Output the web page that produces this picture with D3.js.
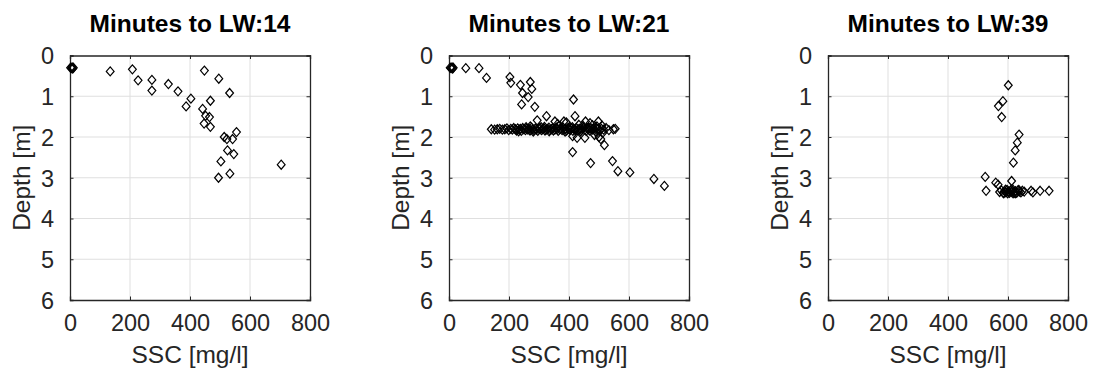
<!DOCTYPE html>
<html>
<head>
<meta charset="utf-8">
<script src="https://cdn.jsdelivr.net/npm/d3@7"></script>
<style>
  html, body { margin: 0; padding: 0; background: #fff; }
  svg { display: block; }
  text { font-family: "Liberation Sans", Arial, Helvetica, sans-serif; }
</style>
</head>
<body>
<svg id="chart" width="1093" height="379"></svg>
<script>
// Suspended sediment concentration profiles at three times before low water
const panelTitles = ["Minutes to LW:14", "Minutes to LW:21", "Minutes to LW:39"];
const xTicks = [0, 200, 400, 600, 800];
const yTicks = [0, 1, 2, 3, 4, 5, 6];
const xLabel = "SSC [mg/l]";
const yLabel = "Depth [m]";

// Panel 1: SSC [mg/l] and depth [m]
const ssc14 = [2, 5, 7, 9, 11, 134, 208, 227, 273, 273, 328, 360, 403, 387, 448, 496, 532, 468, 442, 452, 465, 447, 468, 514, 523, 542, 555, 525, 546, 503, 495, 533, 704];
const depth14 = [0.30, 0.31, 0.29, 0.32, 0.30, 0.39, 0.34, 0.61, 0.60, 0.86, 0.70, 0.88, 1.06, 1.25, 0.37, 0.57, 0.92, 1.11, 1.31, 1.48, 1.51, 1.67, 1.75, 2.00, 2.05, 2.05, 1.88, 2.33, 2.42, 2.60, 3.00, 2.90, 2.68];

// Panel 2
const ssc21 = [4, 7, 10, 12, 14, 56, 100, 125, 203, 206, 238, 271, 276, 245, 264, 242, 286, 415,
  294, 325, 353, 383, 420, 455, 498, 362, 391, 433, 470, 478, 510,
  141, 152, 161, 169, 178, 186, 193, 199, 206, 211, 216, 221, 225, 229, 234, 238, 241, 246, 250, 255,
  258, 263, 267, 270, 275, 279, 283, 288, 291, 296, 300, 303, 308, 312, 317, 320, 324, 329, 333, 336,
  341, 345, 348, 353, 357, 361, 364, 369, 373, 377, 380, 385, 389, 392, 397, 401, 404, 409, 413, 416,
  421, 425, 428, 433, 437, 441, 444, 449, 453, 457, 461, 465, 469, 473, 478, 482, 486, 491, 496, 502,
  508, 515, 524, 533, 548, 554,
  232, 257, 281, 307, 334, 358, 387, 411, 439, 466, 489, 271, 318, 366, 402, 447, 493,
  412, 427, 453, 500, 506, 518, 485, 512, 412, 472, 545, 563, 603, 683, 718];
const depth21 = [0.30, 0.31, 0.29, 0.32, 0.30, 0.31, 0.31, 0.55, 0.53, 0.67, 0.72, 0.65, 0.82, 0.92, 1.02, 1.20, 1.26, 1.08,
  1.59, 1.49, 1.62, 1.62, 1.49, 1.62, 1.62, 1.68, 1.64, 1.70, 1.66, 1.71, 1.72,
  1.81, 1.82, 1.81, 1.80, 1.82, 1.81, 1.79, 1.83, 1.80, 1.82, 1.78, 1.81, 1.84, 1.79, 1.82, 1.80, 1.85, 1.78, 1.81, 1.83,
  1.79, 1.82, 1.80, 1.84, 1.77, 1.81, 1.83, 1.79, 1.82, 1.85, 1.80, 1.78, 1.83, 1.81, 1.79, 1.84, 1.82, 1.80, 1.77, 1.83,
  1.81, 1.79, 1.84, 1.82, 1.78, 1.80, 1.85, 1.81, 1.79, 1.83, 1.77, 1.82, 1.80, 1.84, 1.78, 1.81, 1.83, 1.79, 1.85, 1.80,
  1.82, 1.78, 1.84, 1.81, 1.79, 1.83, 1.80, 1.77, 1.82, 1.85, 1.79, 1.81, 1.84, 1.78, 1.82, 1.80, 1.83, 1.79, 1.81, 1.84,
  1.80, 1.82, 1.78, 1.83, 1.81, 1.80,
  1.86, 1.76, 1.87, 1.76, 1.86, 1.77, 1.87, 1.76, 1.86, 1.77, 1.87, 1.74, 1.75, 1.74, 1.75, 1.73, 1.74,
  1.98, 2.02, 2.02, 2.00, 2.05, 2.20, 1.95, 1.90, 2.37, 2.64, 2.59, 2.84, 2.87, 3.03, 3.20];

// Panel 3
const ssc39 = [601, 583, 568, 579, 637, 631, 624, 618, 524, 559, 567, 612, 527,
  572, 578, 584, 589, 593, 597, 601, 605, 609, 613, 617, 621, 625, 629, 633, 638, 643, 648, 654,
  586, 599, 611, 624, 636, 592, 617,
  677, 683, 707, 737];
const depth39 = [0.73, 1.12, 1.24, 1.51, 1.94, 2.14, 2.33, 2.63, 2.98, 3.12, 3.17, 3.08, 3.32,
  3.35, 3.31, 3.37, 3.33, 3.36, 3.30, 3.34, 3.37, 3.32, 3.35, 3.30, 3.36, 3.33, 3.37, 3.31, 3.34, 3.36, 3.32, 3.34,
  3.38, 3.38, 3.29, 3.38, 3.30, 3.29, 3.38,
  3.32, 3.36, 3.32, 3.32];

const panels = [
  { title: panelTitles[0], ssc: ssc14, depth: depth14 },
  { title: panelTitles[1], ssc: ssc21, depth: depth21 },
  { title: panelTitles[2], ssc: ssc39, depth: depth39 }
];

const svg = d3.select("#chart");
const W = 240, H = 244.5, topY = 55.5;
const lefts = [70, 449, 828];
const axisColor = "#262626";
const diamond = "M0,-4.5L3.9,0L0,4.5L-3.9,0Z";

panels.forEach((p, i) => {
  const g = svg.append("g").attr("transform", `translate(${lefts[i]},${topY})`);
  const x = d3.scaleLinear().domain([0, 800]).range([0, W]);
  const y = d3.scaleLinear().domain([0, 6]).range([0, H]);

  // grid
  g.append("g").selectAll("line").data(xTicks.slice(1, -1)).join("line")
    .attr("x1", d => x(d)).attr("x2", d => x(d)).attr("y1", 0).attr("y2", H)
    .attr("stroke", "#dfdfdf").attr("stroke-width", 1);
  g.append("g").selectAll("line").data(yTicks.slice(1, -1)).join("line")
    .attr("y1", d => y(d)).attr("y2", d => y(d)).attr("x1", 0).attr("x2", W)
    .attr("stroke", "#dfdfdf").attr("stroke-width", 1);

  // axes with inward ticks on all four sides
  const xb = g.append("g").attr("transform", `translate(0,${H})`)
    .call(d3.axisBottom(x).tickValues(xTicks).tickSize(-3.5).tickPadding(29).tickFormat(d3.format("d")));
  const xt = g.append("g").call(d3.axisTop(x).tickValues(xTicks).tickSize(-3.5).tickFormat(""));
  const yl = g.append("g")
    .call(d3.axisLeft(y).tickValues(yTicks).tickSize(-3.5).tickPadding(16).tickFormat(d3.format("d")));
  const yr = g.append("g").attr("transform", `translate(${W},0)`)
    .call(d3.axisRight(y).tickValues(yTicks).tickSize(-3.5).tickFormat(""));
  [xb, xt, yl, yr].forEach(a => {
    a.select(".domain").attr("stroke", axisColor).attr("stroke-width", 1.3);
    a.selectAll(".tick line").attr("stroke", axisColor).attr("stroke-width", 1);
    a.selectAll(".tick text").attr("fill", axisColor).style("font-size", "23.5px")
      .style("font-family", "'Liberation Sans', Arial, sans-serif");
  });
  xb.selectAll(".tick text").attr("dy", "0.1em");
  yl.selectAll(".tick text").attr("dy", "0.36em");

  // markers
  g.append("g").selectAll("path").data(p.ssc.map((v, k) => [v, p.depth[k]])).join("path")
    .attr("d", diamond)
    .attr("transform", d => `translate(${x(d[0])},${y(d[1])})`)
    .attr("fill", "none").attr("stroke", "#000").attr("stroke-width", 1.2);

  // titles and axis labels
  g.append("text").attr("x", W / 2).attr("y", 32 - topY).attr("text-anchor", "middle")
    .style("font-size", "24.5px").style("font-weight", "bold").attr("fill", "#000").text(p.title);
  g.append("text").attr("x", W / 2).attr("y", 363 - topY).attr("text-anchor", "middle")
    .style("font-size", "24.5px").attr("fill", axisColor).text(xLabel);
  g.append("text").attr("transform", `translate(-40,${H / 2}) rotate(-90)`)
    .attr("text-anchor", "middle")
    .style("font-size", "24.5px").attr("fill", axisColor).text(yLabel);
});
</script>
</body>
</html>
